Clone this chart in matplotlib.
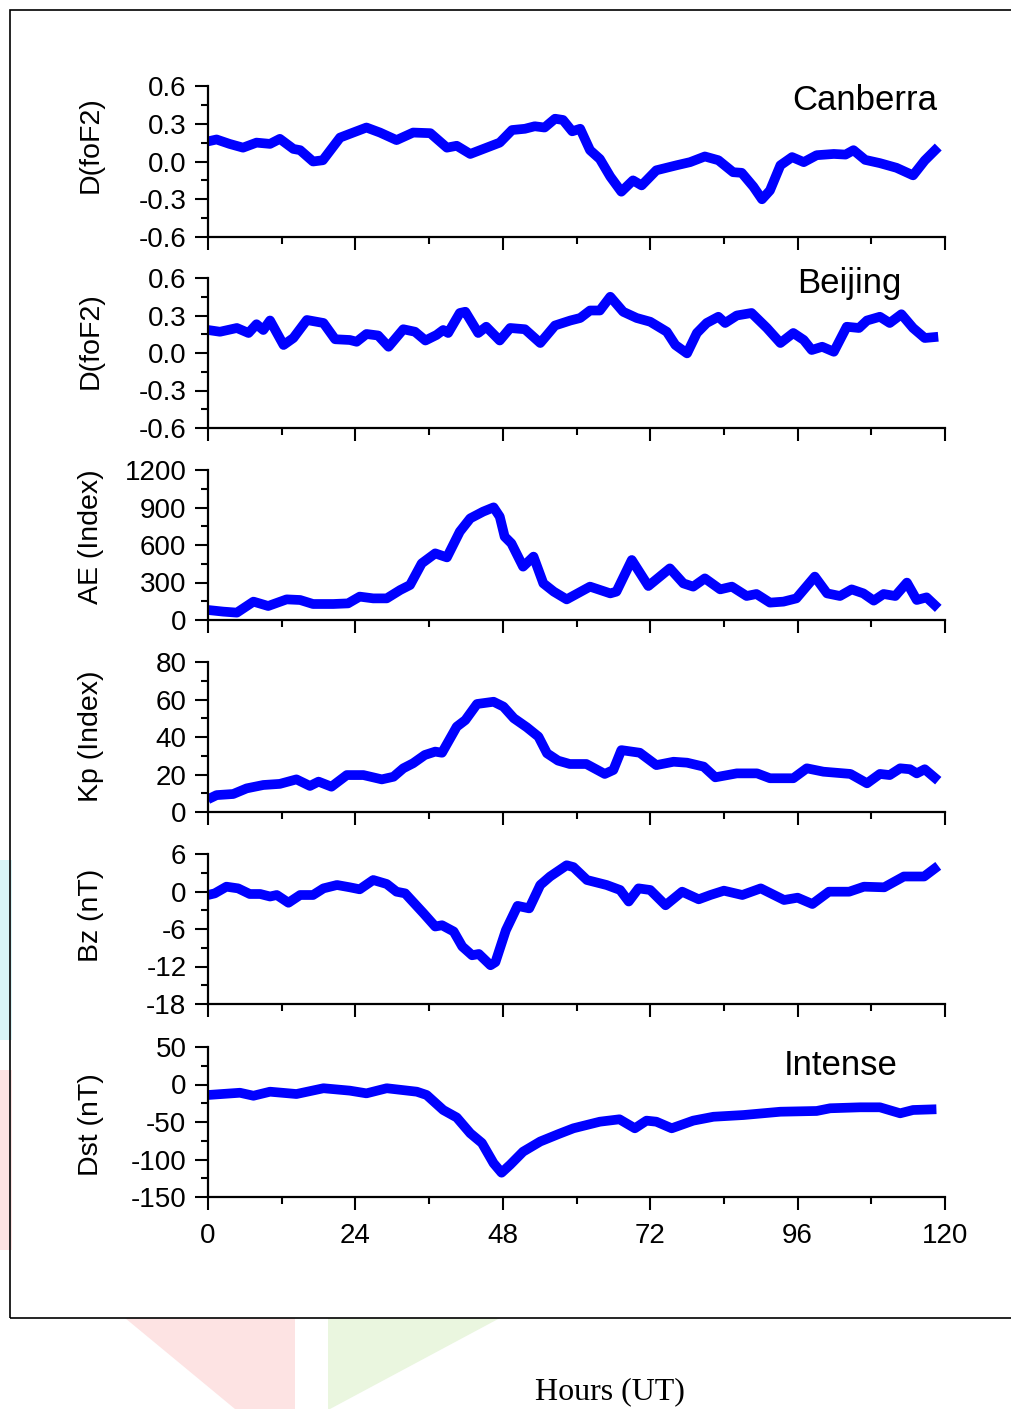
"""Stacked storm-time panels: foF2 deviations and geomagnetic indices."""

import matplotlib
matplotlib.use("Agg")
import matplotlib.pyplot as plt
from matplotlib.patches import Polygon, Rectangle
from matplotlib.ticker import MultipleLocator

plt.rcParams["font.family"] = ["Liberation Sans", "DejaVu Sans"]
plt.rcParams["axes.unicode_minus"] = False

# ---- data (hours UT, value) ----
canberra_h = [0, 1.4, 3.5, 5.7, 7.9, 10.1, 11.7, 13.9, 15, 17.1, 18.7, 21.5, 23.1, 25.8, 28,
              30.7, 33.4, 36.2, 38.9, 40.5, 42.7, 45.9, 47.5, 49.5, 51.6, 53.2, 54.8, 56.5,
              57.8, 59.3, 60.6, 62.2, 63.8, 65.5, 67.3, 69.2, 70.6, 73, 76.3, 78.5, 80.9,
              83.1, 85.5, 86.9, 88.8, 90.2, 91.5, 93.2, 95.1, 97, 99.1, 101.9, 103.8, 105.1,
              107, 109.4, 112.1, 114.8, 116.7, 118.9]
canberra_v = [0.16, 0.175, 0.14, 0.11, 0.15, 0.14, 0.18, 0.10, 0.09, 0.0, 0.01, 0.19, 0.22,
              0.27, 0.23, 0.17, 0.23, 0.225, 0.11, 0.125, 0.06, 0.12, 0.15, 0.25, 0.26, 0.28,
              0.27, 0.34, 0.33, 0.24, 0.26, 0.09, 0.02, -0.12, -0.24, -0.15, -0.19, -0.07,
              -0.03, -0.005, 0.04, 0.01, -0.085, -0.09, -0.20, -0.30, -0.23, -0.03, 0.035,
              -0.005, 0.05, 0.06, 0.055, 0.09, 0.013, -0.013, -0.05, -0.11, 0.008, 0.115]

beijing_h = [0, 1.95, 4.7, 6.6, 7.9, 9.0, 10.1, 12.3, 13.9, 16.1, 18.8, 20.7, 23.1, 24.2,
             25.8, 27.7, 29.4, 31.8, 33.7, 35.4, 37.2, 38.3, 39.1, 41, 41.9, 44, 45.3, 47.5,
             49.2, 51.6, 54.1, 56.5, 59, 60.6, 62.2, 63.8, 65.5, 67.6, 69.8, 72, 74.7, 76.1,
             78, 79.6, 81.2, 83.1, 84.2, 86.1, 88.5, 91, 93.2, 95.3, 97, 98.3, 100, 101.9,
             104, 106, 107.3, 109.4, 111, 112.9, 114.8, 116.7, 118.9]
beijing_v = [0.184, 0.17, 0.20, 0.16, 0.23, 0.184, 0.26, 0.064, 0.12, 0.264, 0.24, 0.11,
             0.104, 0.09, 0.152, 0.14, 0.05, 0.19, 0.17, 0.10, 0.144, 0.184, 0.16, 0.32,
             0.33, 0.16, 0.21, 0.10, 0.2, 0.19, 0.08, 0.22, 0.26, 0.28, 0.34, 0.34, 0.45,
             0.33, 0.28, 0.25, 0.17, 0.064, -0.003, 0.16, 0.24, 0.29, 0.24, 0.30, 0.32, 0.20,
             0.08, 0.16, 0.104, 0.024, 0.05, 0.01, 0.21, 0.2, 0.26, 0.29, 0.24, 0.31, 0.2,
             0.12, 0.13]

ae_h = [0, 2.5, 4.7, 7.4, 9.8, 12.8, 15, 17.1, 20.4, 22.8, 24.7, 26.9, 29.1, 31.3, 32.9,
        34.8, 37, 38.9, 41, 42.7, 44.8, 46.5, 47.5, 48.3, 49.4, 51.3, 53, 54.6, 56.3, 58.4,
        62.2, 65.5, 66.5, 69, 71.7, 75.2, 77.4, 79, 80.9, 83.4, 85.3, 87.7, 89.3, 91.5,
        93.7, 95.8, 98.8, 100.8, 102.9, 104.8, 106.7, 108.4, 110, 111.9, 113.8, 115.4,
        117, 118.9]
ae_v = [80, 67, 59, 147, 112, 165, 160, 128, 128, 133, 187, 173, 173, 240, 280, 453, 533,
        501, 707, 813, 867, 901, 827, 667, 613, 427, 507, 293, 227, 165, 267, 213, 227, 480,
        272, 413, 293, 267, 333, 245, 267, 192, 208, 139, 147, 173, 347, 213, 192, 245, 213,
        155, 208, 192, 299, 160, 181, 93]

kp_h = [0, 1.4, 4.1, 6.3, 9, 11.7, 14.4, 16.6, 18, 20.1, 22.6, 25.3, 28.3, 30.2, 31.8, 33.4,
        35.3, 37, 38.1, 40.5, 41.9, 43.8, 46.5, 48.1, 49.8, 51.9, 53.8, 55.2, 57, 58.9, 61.6,
        64.6, 66, 67.3, 70.3, 73, 75.8, 78, 80.7, 82.6, 86.1, 89.4, 91.5, 95.3, 97.5, 100.2,
        104.6, 107.3, 109.4, 111, 112.7, 114.3, 115.4, 116.7, 118.9]
kp_v = [6.8, 9, 9.6, 12.6, 14.4, 15, 17.4, 13.9, 16.2, 13.5, 19.7, 19.7, 17.4, 18.8, 23.3,
        26, 30.4, 32.2, 31.6, 45.5, 49, 57.6, 58.8, 56.2, 50, 45.2, 40.2, 31.3, 27.4, 25.6,
        25.6, 20.3, 22.4, 33, 31.6, 25, 26.8, 26.3, 24.2, 18.5, 20.6, 20.6, 18, 18, 23.3,
        21.5, 20.3, 15.3, 20.3, 19.7, 23.3, 22.8, 20.6, 22.8, 16.7]

bz_h = [0, 1.1, 3, 4.9, 6.8, 8.5, 10.1, 11.2, 13.1, 15, 17.1, 18.8, 21, 23.1, 24.7, 26.9,
        29.1, 30.7, 32.1, 35.1, 37, 38.1, 40, 41.4, 43, 44.1, 46, 46.8, 48.5, 50.4, 52.3,
        54.1, 55.7, 58.4, 59.5, 61.7, 64.9, 67.1, 68.5, 70.1, 72, 74.5, 77.2, 79.9, 81.8,
        84, 87, 90, 93.8, 96, 98.4, 101.1, 104.4, 106.8, 110.1, 113.3, 116.6, 118.9]
bz_v = [-0.56, -0.3, 0.77, 0.5, -0.4, -0.4, -0.8, -0.56, -1.8, -0.56, -0.56, 0.5, 1.04,
        0.67, 0.35, 1.84, 1.2, -0.03, -0.3, -3.5, -5.6, -5.4, -6.4, -8.8, -10.2, -10, -11.8,
        -11.3, -6.2, -2.3, -2.7, 1.04, 2.4, 4.2, 3.9, 1.84, 1.04, 0.24, -1.6, 0.5, 0.24,
        -2.2, -0.03, -1.25, -0.56, 0.13, -0.56, 0.5, -1.36, -0.99, -2, -0.03, -0.03, 0.77,
        0.67, 2.4, 2.4, 4.1]

dst_h = [0, 5.2, 7.4, 10.1, 14.4, 18.8, 23.1, 25.8, 29.1, 34, 35.6, 38.3, 40.5, 42.7, 44.6,
         46.5, 47.8, 49.2, 51.3, 54.1, 57.1, 59.5, 63.8, 67, 69.5, 71.4, 73, 75.5, 79, 82.3,
         87.2, 93.2, 99.1, 101.3, 106.2, 109.4, 112.7, 114.8, 118.6]
dst_v = [-14, -11, -15, -9.6, -12.7, -5, -8.2, -11.8, -5, -9.6, -14, -34, -44, -65, -78,
         -105, -117.6, -107, -89.6, -76, -66, -58.4, -49.6, -46.4, -58.4, -48.2, -49.6,
         -58.4, -48.2, -43, -40.7, -36.3, -35.3, -31.7, -30.4, -30.4, -38.4, -34, -33]

hour_ticks = [0, 24, 48, 72, 96, 120]

# (hours, values, ylabel, ylim, major step, tag text, tag x, tag y)
panels = [
    (canberra_h, canberra_v, "D(foF2)", (-0.6, 0.6), 0.3, "Canberra", 0.990, 0.841),
    (beijing_h, beijing_v, "D(foF2)", (-0.6, 0.6), 0.3, "Beijing", 0.941, 0.90),
    (ae_h, ae_v, "AE (Index)", (0, 1200), 300, None, 0, 0),
    (kp_h, kp_v, "Kp (Index)", (0, 80), 20, None, 0, 0),
    (bz_h, bz_v, "Bz (nT)", (-18, 6), 6, None, 0, 0),
    (dst_h, dst_v, "Dst (nT)", (-150, 50), 50, "Intense", 0.936, 0.813),
]

# panel top / bottom and y-label centre, in pixels of the 1012 x 1409 canvas
tops = [86, 278, 470, 662, 854, 1047]
bottoms = [237, 428, 620, 812, 1004, 1197]
label_mid = [145, 341, 537, 736, 915, 1125]

W, H = 1012, 1409
fig = plt.figure(figsize=(W / 100, H / 100), dpi=100)


def px(x, y):
    return (x / W, 1 - y / H)


# faint watermark shapes behind the chart
watermark = [
    ([(0, 860), (12, 860), (12, 1040), (0, 1040)], "#d9f4f7"),
    ([(0, 1070), (12, 1070), (12, 1250), (0, 1250)], "#fde3e3"),
    ([(125, 1318), (295, 1318), (295, 1409), (235, 1409)], "#fde3e3"),
    ([(328, 1318), (500, 1318), (330, 1409), (328, 1409)], "#eaf6df"),
]
for pts, col in watermark:
    fig.add_artist(Polygon([px(*p) for p in pts], closed=True, transform=fig.transFigure,
                           fc=col, ec="none", zorder=0))

left_px, right_px = 208, 945
for i, (hrs, vals, ylab, ylim, step, tag, tx, ty) in enumerate(panels):
    top, bot = tops[i], bottoms[i]
    ax = fig.add_axes([left_px / W, 1 - bot / H, (right_px - left_px) / W, (bot - top) / H])
    ax.plot(hrs, vals, color="#0000ff", lw=7, solid_joinstyle="round",
            solid_capstyle="butt")
    ax.set_xlim(0, 120)
    ax.set_ylim(*ylim)
    ax.set_facecolor("none")
    for side in ("top", "right"):
        ax.spines[side].set_visible(False)
    for side in ("left", "bottom"):
        ax.spines[side].set_linewidth(1.6)
    ax.xaxis.set_major_locator(MultipleLocator(24))
    ax.xaxis.set_minor_locator(MultipleLocator(12))
    ax.yaxis.set_major_locator(MultipleLocator(step))
    ax.yaxis.set_minor_locator(MultipleLocator(step / 2))
    ax.tick_params(which="major", direction="out", length=9.5, width=1.5,
                   labelsize=20, pad=6)
    ax.tick_params(which="minor", direction="out", length=5, width=1.5)
    ax.tick_params(axis="x", which="major", pad=9)
    if step < 1:
        ax.set_yticks([-0.6, -0.3, 0.0, 0.3, 0.6])
        ax.set_yticklabels(["-0.6", "-0.3", "0.0", "0.3", "0.6"])
    if i < len(panels) - 1:
        ax.tick_params(axis="x", labelbottom=False)
    else:
        ax.set_xticks(hour_ticks)
    fig.text(91 / W, 1 - label_mid[i] / H, ylab, rotation=90, ha="center",
             va="center", fontsize=20.5)
    if tag:
        ax.text(tx, ty, tag, transform=ax.transAxes, ha="right", va="baseline",
                fontsize=25)

fig.text(610 / W, 1 - 1392 / H, "Hours (UT)", ha="center", va="center", fontsize=23,
         family=["Liberation Serif", "DejaVu Serif"])

fig.add_artist(Rectangle((10 / W, 1 - 1318 / H), 1010 / W, 1308 / H,
                         transform=fig.transFigure, fill=False, lw=1.2, ec="black"))

fig.savefig("out.png", dpi=100)
